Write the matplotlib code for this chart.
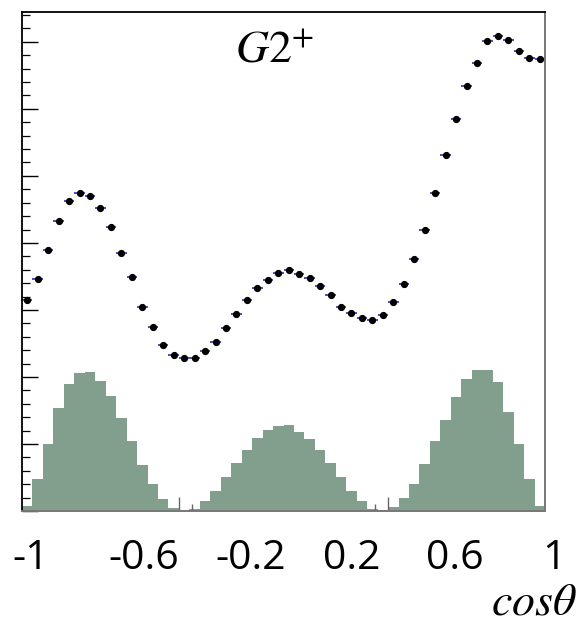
import numpy as np
import matplotlib
matplotlib.use("Agg")
import matplotlib.pyplot as plt
import matplotlib.transforms as mtransforms
from matplotlib.ticker import MultipleLocator, NullFormatter

plt.rcParams['mathtext.fontset'] = 'stix'

# 50 bins on cos(theta) in [-1, 1]
N_BINS = 50
BIN_EDGES = np.linspace(-1, 1, N_BINS + 1)
BIN_CENTERS = 0.5 * (BIN_EDGES[:-1] + BIN_EDGES[1:])

# data points (arbitrary units, one major tick = 1)
POINTS = [3.15, 3.46, 3.90, 4.32, 4.63, 4.75, 4.70, 4.52, 4.24, 3.85,
          3.49, 3.04, 2.74, 2.48, 2.33, 2.28, 2.28, 2.38, 2.52, 2.73,
          2.94, 3.15, 3.33, 3.44, 3.55, 3.60, 3.53, 3.47, 3.35, 3.23,
          3.05, 2.96, 2.88, 2.85, 2.93, 3.12, 3.38, 3.76, 4.19, 4.75,
          5.31, 5.85, 6.34, 6.69, 7.02, 7.09, 7.03, 6.87, 6.76, 6.75]

# filled histogram underneath
HIST = [0.08, 0.48, 1.00, 1.53, 1.89, 2.06, 2.07, 1.94, 1.72, 1.39,
        1.04, 0.68, 0.40, 0.18, 0.05, 0.00, 0.035, 0.145, 0.30, 0.50,
        0.71, 0.91, 1.09, 1.21, 1.27, 1.28, 1.18, 1.08, 0.91, 0.71,
        0.50, 0.30, 0.145, 0.035, 0.00, 0.055, 0.19, 0.40, 0.70, 1.04,
        1.36, 1.70, 1.97, 2.11, 2.10, 1.93, 1.47, 0.995, 0.47, 0.08]

# little grey marks next to the empty bins
MARK_X = [-0.40, -0.35, 0.35, 0.40]
MARK_H = [0.21, 0.10, 0.10, 0.21]

XTICK_LABELS = ['-1', '-0.6', '-0.2', '0.2', '0.6', '1']
XTICK_POS = [-0.966, -0.533, -0.124, 0.262, 0.656, 1.034]

fig = plt.figure(figsize=(5.8, 6.23), dpi=100)
ax = fig.add_axes([0.0379, 0.1798, 0.9018, 0.8014])

ax.stairs(HIST, BIN_EDGES, fill=True, color='#829e8c', linewidth=0)
ax.vlines(MARK_X, 0, MARK_H, color='#666666', linewidth=1)

ax.errorbar(BIN_CENTERS, POINTS, xerr=0.02, fmt='o', color='black',
            markersize=4.2, ecolor='#1c1ca8', elinewidth=1.1, capsize=0)

ax.set_xlim(-1, 1)
ax.set_ylim(0, 7.45)

ax.yaxis.set_major_locator(MultipleLocator(1))
ax.yaxis.set_minor_locator(MultipleLocator(0.2))
ax.yaxis.set_major_formatter(NullFormatter())
ax.tick_params(axis='y', which='major', direction='in', length=11.5, width=1.0, color='black')
ax.tick_params(axis='y', which='minor', direction='in', length=5.8, width=0.9, color='black')
ax.set_xticks([])

for side in ['left', 'top']:
    ax.spines[side].set_color('black')
    ax.spines[side].set_linewidth(1.3)
for side in ['right', 'bottom']:
    ax.spines[side].set_color('#777777')
    ax.spines[side].set_linewidth(1.4)

# x tick labels (sit slightly right of the true positions in the original)
trans = mtransforms.blended_transform_factory(ax.transData, fig.transFigure)
for lab, pos in zip(XTICK_LABELS, XTICK_POS):
    ax.text(pos, 0.1027, lab, transform=trans, ha='center', va='center',
            fontsize=29.5, family='Open Sans', clip_on=False)

fig.text(0.995, 0.014, r'$cos\theta$', ha='right', va='baseline', fontsize=33)

ax.text(0.405, 0.90, r'$G2^{+}$', transform=fig.transFigure, ha='left',
        va='baseline', fontsize=33)

fig.savefig('out.png', dpi=100)
